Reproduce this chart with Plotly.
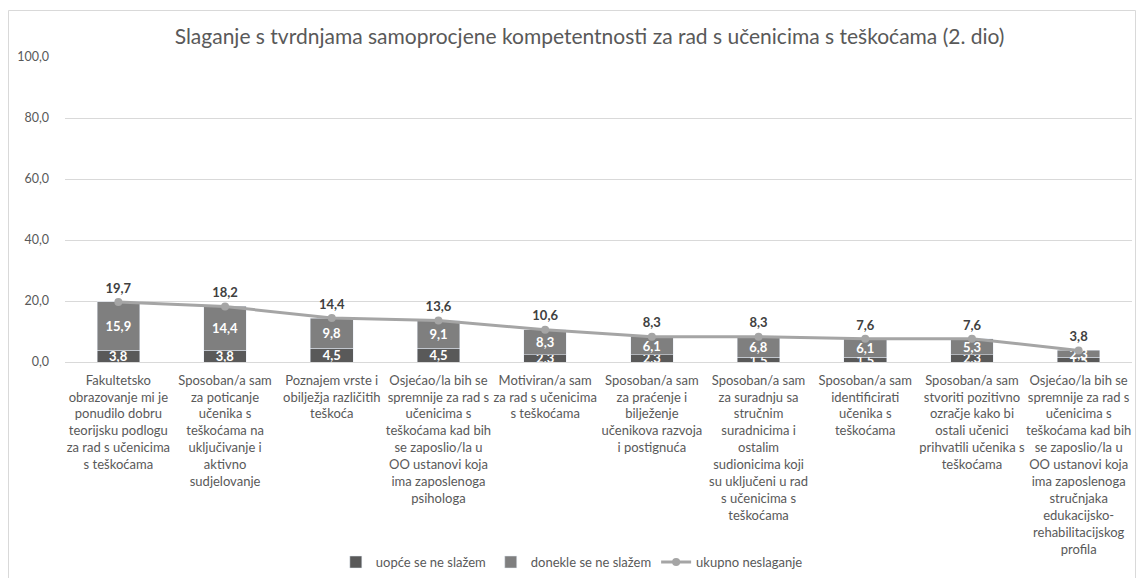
import plotly.graph_objects as go

categories = [
    "Fakultetsko<br>obrazovanje mi je<br>ponudilo dobru<br>teorijsku podlogu<br>za rad s učenicima<br>s teškoćama",
    "Sposoban/a sam<br>za poticanje<br>učenika s<br>teškoćama na<br>uključivanje i<br>aktivno<br>sudjelovanje",
    "Poznajem vrste i<br>obilježja različitih<br>teškoća",
    "Osjećao/la bih se<br>spremnije za rad s<br>učenicima s<br>teškoćama kad bih<br>se zaposlio/la u<br>OO ustanovi koja<br>ima zaposlenoga<br>psihologa",
    "Motiviran/a sam<br>za rad s učenicima<br>s teškoćama",
    "Sposoban/a sam<br>za praćenje i<br>bilježenje<br>učenikova razvoja<br>i postignuća",
    "Sposoban/a sam<br>za suradnju sa<br>stručnim<br>suradnicima i<br>ostalim<br>sudionicima koji<br>su uključeni u rad<br>s učenicima s<br>teškoćama",
    "Sposoban/a sam<br>identificirati<br>učenika s<br>teškoćama",
    "Sposoban/a sam<br>stvoriti pozitivno<br>ozračje kako bi<br>ostali učenici<br>prihvatili učenika s<br>teškoćama",
    "Osjećao/la bih se<br>spremnije za rad s<br>učenicima s<br>teškoćama kad bih<br>se zaposlio/la u<br>OO ustanovi koja<br>ima zaposlenoga<br>stručnjaka<br>edukacijsko-<br>rehabilitacijskog<br>profila",
]
uopce = [3.8, 3.8, 4.5, 4.5, 2.3, 2.3, 1.5, 1.5, 2.3, 1.5]
donekle = [15.9, 14.4, 9.8, 9.1, 8.3, 6.1, 6.8, 6.1, 5.3, 2.3]
ukupno = [19.7, 18.2, 14.4, 13.6, 10.6, 8.3, 8.3, 7.6, 7.6, 3.8]

FONT = "Lato"
x = list(range(len(categories)))


def fmt(v):
    return f"{v:.1f}".replace(".", ",")


fig = go.Figure()
fig.add_trace(go.Bar(
    x=x, y=uopce, name="uopće se ne slažem", marker_color="#595959",
    text=[fmt(v) for v in uopce], textposition="inside",
    insidetextanchor="middle",
    textfont=dict(color="white", size=13, family=FONT, weight="bold"),
))
fig.add_trace(go.Bar(
    x=x, y=donekle, name="donekle se ne slažem", marker_color="#7f7f7f",
    text=[fmt(v) for v in donekle], textposition="inside",
    insidetextanchor="middle",
    textfont=dict(color="white", size=13, family=FONT, weight="bold"),
))
fig.add_trace(go.Scatter(
    x=x, y=ukupno, name="ukupno neslaganje", mode="lines+markers+text",
    line=dict(color="#a5a5a5", width=3), marker=dict(color="#a5a5a5", size=8),
    text=[fmt(v) for v in ukupno], textposition="top center",
    textfont=dict(color="#404040", size=13, family=FONT, weight="bold"),
))

fig.update_layout(
    width=1136, height=578,
    barmode="stack", bargap=0.6,
    separators=",.",
    plot_bgcolor="white", paper_bgcolor="white",
    margin=dict(l=65, r=4, t=57, b=216, autoexpand=False),
    font=dict(family=FONT, color="#595959", size=12),
    title=dict(text="Slaganje s tvrdnjama samoprocjene kompetentnosti za rad s učenicima s teškoćama (2. dio)",
               x=0.519, xanchor="center", y=1 - 37 / 578, yanchor="middle",
               font=dict(size=21, color="#595959", family=FONT)),
    uniformtext=dict(minsize=13, mode="show"),
    legend=dict(orientation="h", x=0.475, xanchor="center", y=-0.656, yanchor="middle",
                font=dict(size=13, color="#595959", family=FONT), traceorder="normal",
                itemwidth=30),
    showlegend=True,
)
fig.update_xaxes(tickmode="array", tickvals=x, ticktext=categories,
                 tickangle=0, showline=True, linecolor="#d9d9d9", showgrid=False,
                 tickfont=dict(size=13, color="#595959"), range=[-0.5, 9.5], ticks="",
                 ticklabelstandoff=6)
fig.update_yaxes(range=[0, 100], dtick=20, tickformat=".1f", showgrid=True,
                 gridcolor="#d9d9d9", zeroline=False, showline=False,
                 tickfont=dict(size=12.5, color="#595959"), ticks="", ticklabelstandoff=15)

fig.add_shape(type="rect", xref="paper", yref="paper",
              x0=(8.5 - 65) / 1067, x1=(1135.5 - 65) / 1067,
              y0=(362 - 580) / 305, y1=(362 - 10.5) / 305,
              line=dict(color="#d9d9d9", width=1), fillcolor="rgba(0,0,0,0)", layer="below")

fig.write_html("out.html", config={"displayModeBar": False},
               post_script="document.body.style.margin='0';document.body.style.overflow='hidden';")
